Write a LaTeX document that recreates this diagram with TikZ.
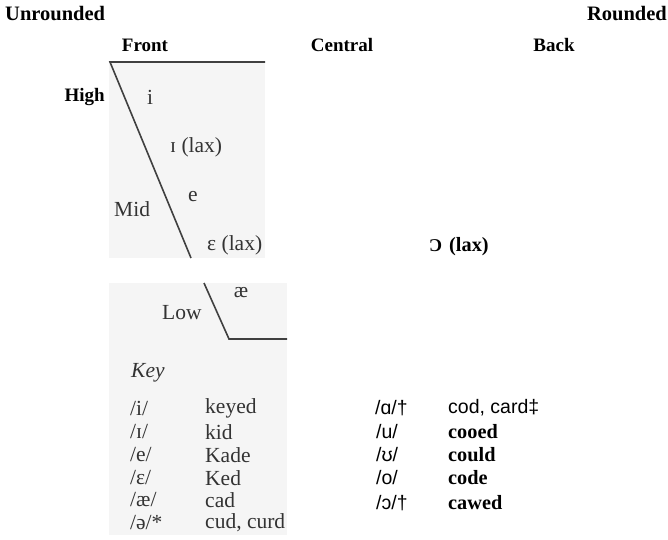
\documentclass[tikz,border=0pt]{standalone}
\usepackage{fontspec}
\setmainfont{Liberation Serif}
\newfontfamily\ipasans{Liberation Sans}
\begin{document}
\begin{tikzpicture}[x=1pt,y=-1pt,
  head/.style={font=\fontsize{19}{21}\selectfont\bfseries, inner sep=0pt},
  corner/.style={font=\fontsize{20.5}{22}\selectfont\bfseries, inner sep=0pt},
  scan/.style={font=\fontsize{21.5}{23}\selectfont, text=black!80, inner sep=0pt},
  rbold/.style={font=\fontsize{20.3}{22}\selectfont\bfseries, inner sep=0pt},
  rsans/.style={font=\fontsize{19.5}{22}\selectfont\ipasans, inner sep=0pt},
  patch/.style={fill=black!4, draw=none},
  chartline/.style={draw=black!75, line width=1.6pt}]
\useasboundingbox (0,0) rectangle (668,539);
% scanned patches
\fill[patch] (109,62) rectangle (265,258);
\fill[patch] (109,283) rectangle (287,535);
% headings
\node[corner, anchor=west] (unr) at (5,14) {Unrounded};
\node[corner, anchor=east] (rnd) at (667,14) {Rounded};
\node[head] (front) at (145,45) {Front};
\node[head] (central) at (342,45) {Central};
\node[head] (back) at (554,45) {Back};
\node[head, anchor=east] (high) at (105,97) {High};
% chart lines
\coordinate (tl) at (110,62);
\coordinate (tr) at (265,62);
\coordinate (d1) at (191,258);
\coordinate (d2) at (204,283);
\coordinate (d3) at (229,339);
\coordinate (d4) at (287,339);
\draw[chartline] (tr) -- (tl) -- (d1);
\draw[chartline] (d2) -- (d3) -- (d4);
% scanned labels
\node[scan] (vi) at (150,97) {i};
\node[scan, anchor=west] (vI) at (170,147) {ɪ (lax)};
\node[scan, anchor=west] (mid) at (114,209) {Mid};
\node[scan] (ve) at (193,197) {e};
\node[scan, anchor=west] (veps) at (207,245) {ɛ (lax)};
\node[scan] (vae) at (241,293) {æ};
\node[scan, anchor=west] (low) at (162,313) {Low};
\node[scan, anchor=west, font=\fontsize{21.5}{23}\selectfont\itshape] (key) at (131,373) {Key};
\node[scan, anchor=west] (k1) at (130,408) {/i/};
\node[scan, anchor=west] (w1) at (205,408) {keyed};
\node[scan, anchor=west] (k2) at (130,432) {/ɪ/};
\node[scan, anchor=west] (w2) at (205,432) {kid};
\node[scan, anchor=west] (k3) at (130,455) {/e/};
\node[scan, anchor=west] (w3) at (205,455) {Kade};
\node[scan, anchor=west] (k4) at (130,478) {/ɛ/};
\node[scan, anchor=west] (w4) at (205,478) {Ked};
\node[scan, anchor=west] (k5) at (130,500) {/æ/};
\node[scan, anchor=west] (w5) at (205,500) {cad};
\node[scan, anchor=west] (k6) at (130,523) {/ə/*};
\node[scan, anchor=west] (w6) at (205,523) {cud, curd};
% right side
\node[rbold, anchor=west] (oo) at (429,247) {{\fontsize{18}{20}\selectfont Ɔ}\hspace{7pt}(lax)};
\node[rsans, anchor=west] (r1) at (375,408) {/ɑ/†};
\node[rsans, anchor=west] (s1) at (448,408) {cod, card‡};
\node[rsans, anchor=west] (r2) at (376,432) {/u/};
\node[rbold, anchor=west] (s2) at (448,432) {cooed};
\node[rsans, anchor=west] (r3) at (376,455) {/ʊ/};
\node[rbold, anchor=west] (s3) at (448,455) {could};
\node[rsans, anchor=west] (r4) at (376,478) {/o/};
\node[rbold, anchor=west] (s4) at (448,478) {code};
\node[rsans, anchor=west] (r5) at (376,503) {/ɔ/†};
\node[rbold, anchor=west] (s5) at (448,503) {cawed};
\end{tikzpicture}
\end{document}
